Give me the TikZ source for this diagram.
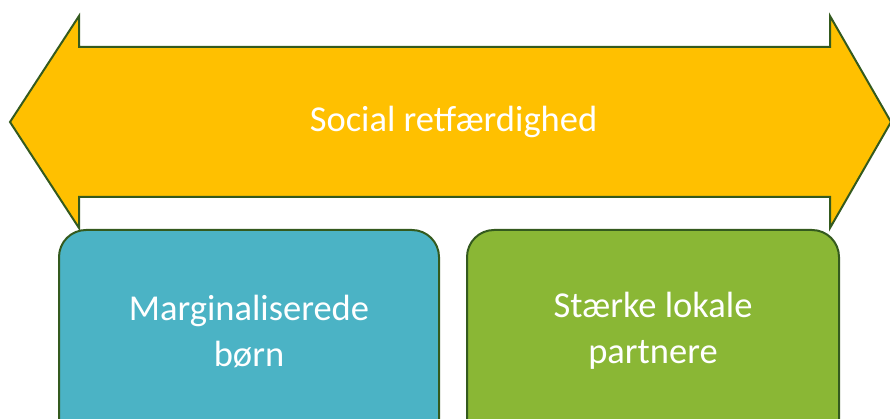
\documentclass[tikz,border=0pt]{standalone}
\usepackage{fontspec}
\setmainfont{Carlito}
\definecolor{arrowfill}{HTML}{FFC000}
\definecolor{edge}{HTML}{345A1E}
\definecolor{tealbox}{HTML}{4BB3C5}
\definecolor{greenbox}{HTML}{8AB735}
\begin{document}
\begin{tikzpicture}[x=1pt,y=-1pt,
  outline/.style={draw=edge,line width=2pt,line join=miter},
  rbox/.style={outline,rounded corners=27pt},
  lbl/.style={text=white,font=\fontsize{36.5}{46}\selectfont,align=center,inner sep=0pt}]
\useasboundingbox (0,0) rectangle (890,419);
\draw[outline,fill=arrowfill] (10,122) -- (79,16) -- (79,47) -- (830,47) -- (830,16) -- (891,122)
  -- (830,228) -- (830,197) -- (79,197) -- (79,228) -- cycle;
\node[lbl,anchor=base] (arrow) at (453.5,132) {Social retfærdighed};
\draw[rbox,fill=tealbox] (59,435) -- (59,230) -- (439,230) -- (439,435);
\node[lbl] (left) at (249,331) {Marginaliserede\\børn};
\draw[rbox,fill=greenbox] (467,435) -- (467,230) -- (839,230) -- (839,435);
\node[lbl] (right) at (653,331) {Stærke lokale\\partnere};
\end{tikzpicture}
\end{document}
